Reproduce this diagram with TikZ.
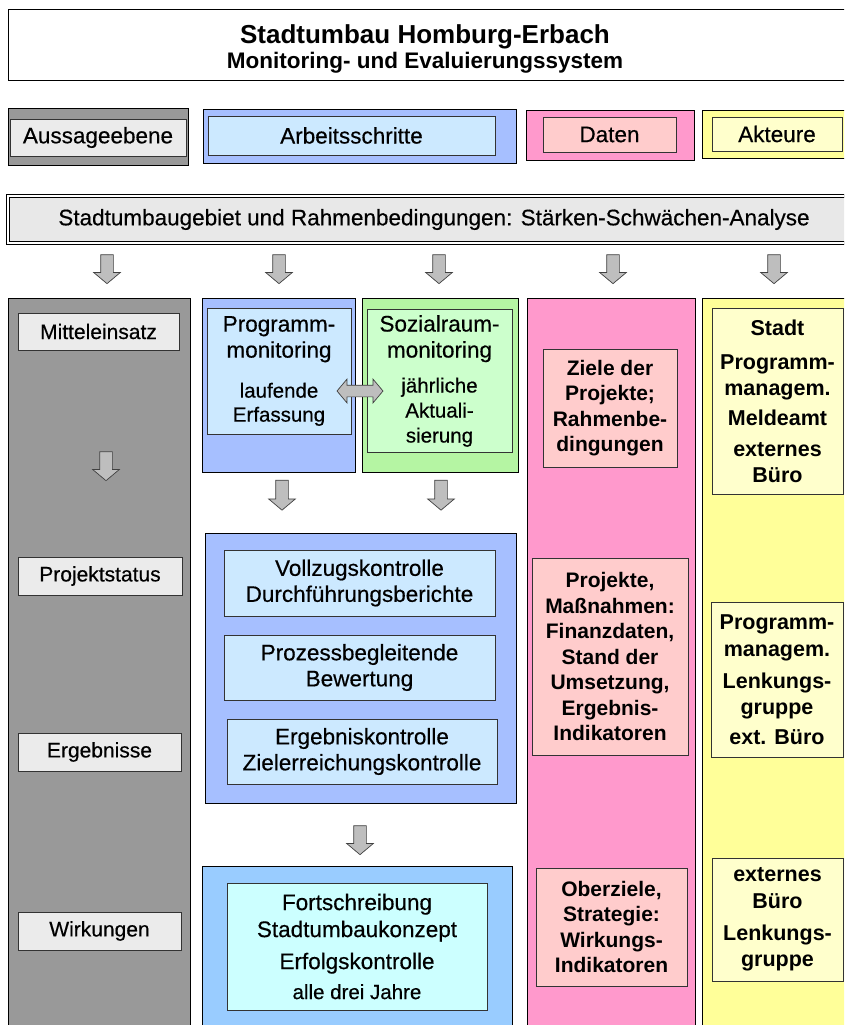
\documentclass[tikz,border=0pt]{standalone}
\usepackage{fontspec}
\setmainfont{Liberation Sans}
\newfontfamily\medfont[FakeBold=0.4]{Liberation Sans}
\usetikzlibrary{shapes.arrows}
\definecolor{colgray}{HTML}{999999}
\definecolor{lblgray}{HTML}{EBEBEB}
\definecolor{colblue}{HTML}{A6BFFF}
\definecolor{boxblue}{HTML}{CCE9FF}
\definecolor{colgreen}{HTML}{B5F5A3}
\definecolor{boxgreen}{HTML}{CCFFCC}
\definecolor{colsky}{HTML}{99CCFF}
\definecolor{boxcyan}{HTML}{CCFFFF}
\definecolor{colpink}{HTML}{FF99CC}
\definecolor{boxpink}{HTML}{FFCCCC}
\definecolor{colyellow}{HTML}{FFFF99}
\definecolor{boxyellow}{HTML}{FFFFCC}
\definecolor{arrgray}{HTML}{BEBEBE}
\definecolor{bannergray}{HTML}{E8E8E8}
\newcommand{\txt}{\medfont\fontsize{22.5}{26}\selectfont}
\newcommand{\txtsm}{\fontsize{20.5}{24}\selectfont}
\tikzset{
  wh/.style 2 args={minimum width=#1pt, minimum height=#2pt},
  column/.style={draw=black, line width=1pt, inner sep=0pt},
  inbox/.style={draw=black!80, line width=0.8pt, inner sep=0pt, align=center},
  lbl/.style={inbox, fill=lblgray, font=\medfont\fontsize{21}{25}\selectfont},
  arbbox/.style={inbox, fill=boxblue, font=\txt},
  datbox/.style={inbox, fill=boxpink, font=\fontsize{21}{25.5}\selectfont\bfseries},
  aktbox/.style={inbox, fill=boxyellow, font=\fontsize{21.5}{26}\selectfont\bfseries},
  downarr/.style={single arrow, draw=black!75, fill=arrgray, line width=0.7pt,
    shape border rotate=270, inner sep=6pt, single arrow head extend=7pt,
    single arrow tip angle=100, minimum height=29pt},
}
\begin{document}
\begin{tikzpicture}[x=1pt, y=-1pt]
\useasboundingbox (0,0) rectangle (844,1025);
\clip (0,0) rectangle (844,1025);
% Titel
\node[column, fill=white, wh={852}{70}] (titel) at (434,45) {};
\node[align=center, font=\bfseries\fontsize{22.5}{25}\selectfont] (titeltext) at (425,48.5)
  {{\fontsize{26}{30}\selectfont Stadtumbau Homburg-Erbach}\\Monitoring- und Evaluierungssystem};

% Legende
\node[column, fill=colgray, wh={180}{57}] (aussage) at (98,136.5) {};
\node[lbl, wh={176}{37}, font=\txt] (aussagetext) at (98,137.5) {Aussageebene};
\node[column, fill=colblue, wh={313}{54}] (arbeit) at (359.5,136) {};
\node[arbbox, wh={287}{39}] (arbeittext) at (351.5,135.5) {Arbeitsschritte};
\node[column, fill=colpink, wh={168}{50}] (daten) at (610,135) {};
\node[inbox, fill=boxpink, wh={133}{35}, font=\txt] (datentext) at (609.5,134.5) {Daten};
\node[column, fill=colyellow, wh={158}{48}] (akteure) at (781,134) {};
\node[inbox, fill=boxyellow, wh={130}{34}, font=\txt] (akteuretext) at (777,134) {Akteure};

% Analyse
\node[draw=black, double=white, double distance=1.2pt, line width=1.6pt, fill=bannergray,
  wh={852}{47}, font=\txt] (analyse) at (434,219.5)
  {Stadtumbaugebiet und Rahmenbedingungen: Stärken-Schwächen-Analyse};
\foreach \x/\n in {107/1, 279/2, 439/3, 613/4, 774/5}
  \node[downarr] (pfeil\n) at (\x,266.5) {};

% Spalten
\node[column, fill=colgray, wh={182}{747}] (ebenen) at (99,671.5) {};
\node[column, fill=colblue, wh={153}{174}] (progspalte) at (278.5,385) {};
\node[column, fill=colgreen, wh={156}{174}] (sozspalte) at (440,385) {};
\node[column, fill=colblue, wh={311}{270}] (kontrolle) at (360.5,668) {};
\node[column, fill=colsky, wh={310}{179}] (fortspalte) at (357,955.5) {};
\node[column, fill=colpink, wh={168}{747}] (datenspalte) at (611,671.5) {};
\node[column, fill=colyellow, wh={158}{747}] (akteurspalte) at (781,671.5) {};

% Aussageebenen
\node[lbl, wh={161}{37}] (mittel) at (98.5,331.5) {Mitteleinsatz};
\node[lbl, wh={164}{38}] (status) at (100,576) {Projektstatus};
\node[lbl, wh={163}{38}] (ergebnis) at (99.5,752) {Ergebnisse};
\node[lbl, wh={163}{38}] (wirkung) at (99.5,931) {Wirkungen};
\node[downarr] (pfeilebene) at (106,463.5) {};

% Arbeitsschritte
\node[arbbox, wh={144}{126}] (progmon) at (279,371)
  {Programm-\\monitoring\\[14pt]\txtsm laufende\\[-2pt]\txtsm Erfassung};
\node[inbox, fill=boxgreen, font=\txt, wh={145}{143}] (sozmon) at (439.5,381)
  {Sozialraum-\\monitoring\\[9pt]\txtsm jährliche\\[-1pt]\txtsm Aktuali-\\[-1pt]\txtsm sierung};
\node[double arrow, draw=black!75, fill=arrgray, line width=0.7pt, inner sep=5.5pt,
  double arrow head extend=6pt, double arrow tip angle=100, minimum height=46pt] (austausch) at (360,391) {};
\node[downarr, minimum height=30pt] (pfeilprog) at (282,492.5) {};
\node[downarr, minimum height=30pt] (pfeilsoz) at (441,492.5) {};
\node[arbbox, wh={271}{66}] (vollzug) at (359.5,583) {Vollzugskontrolle\\Durchführungsberichte};
\node[arbbox, wh={271}{65}] (prozess) at (359.5,667.5) {Prozessbegleitende\\Bewertung};
\node[arbbox, wh={270}{65}] (ergkontr) at (362,751.5) {Ergebniskontrolle\\Zielerreichungskontrolle};
\node[downarr] (pfeilfort) at (360,837.5) {};
\node[inbox, fill=boxcyan, font=\txt, wh={260}{127}] (fortschr) at (357,946.5)
  {Fortschreibung\\[1pt]Stadtumbaukonzept\\[6pt]Erfolgskontrolle\\[4pt]\txtsm alle drei Jahre};

% Daten
\node[datbox, wh={134}{118}] (ziele) at (610,408) {Ziele der\\Projekte;\\Rahmenbe-\\dingungen};
\node[datbox, wh={156}{197}] (projekte) at (610,656.5)
  {Projekte,\\Maßnahmen:\\Finanzdaten,\\Stand der\\Umsetzung,\\Ergebnis-\\Indikatoren};
\node[datbox, wh={151}{118}] (oberziele) at (611.5,927) {Oberziele,\\Strategie:\\Wirkungs-\\Indikatoren};

% Akteure
\node[aktbox, wh={131}{186}] (stadt) at (777.5,401)
  {Stadt\\[8pt]Programm-\\managem.\\[4pt]Meldeamt\\[5pt]externes\\Büro};
\node[aktbox, wh={132}{155}] (progmgmt) at (777,679.5)
  {Programm-\\[1pt]managem.\\[6pt]Lenkungs-\\gruppe\\[4pt]ext. Büro};
\node[aktbox, wh={131}{123}] (extbuero) at (777.5,919.5)
  {externes\\[1pt]Büro\\[6pt]Lenkungs-\\gruppe};
\end{tikzpicture}
\end{document}
